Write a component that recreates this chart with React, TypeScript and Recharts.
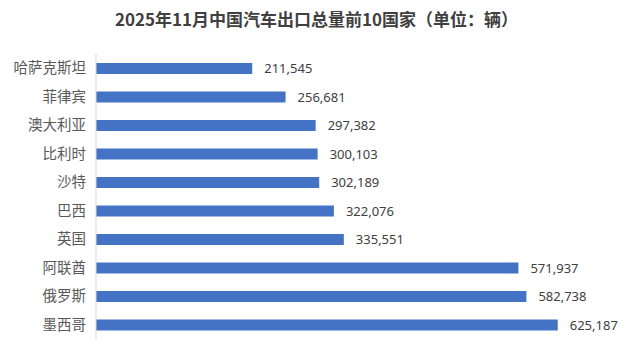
import React from 'react';
import { BarChart, Bar, XAxis, YAxis, LabelList } from 'recharts';

const countries = ['哈萨克斯坦', '菲律宾', '澳大利亚', '比利时', '沙特', '巴西', '英国', '阿联酋', '俄罗斯', '墨西哥'];
const exports = [211545, 256681, 297382, 300103, 302189, 322076, 335551, 571937, 582738, 625187];

const data = countries.map((name, i) => ({ name, value: exports[i] }));

export default function App() {
  return (
    <div style={{ position: 'relative', width: 633, height: 357, background: '#fff' }}>
      <style>{`body{margin:0}`}</style>
      <div
        style={{
          position: 'absolute',
          top: 7,
          left: 0,
          width: 633,
          textAlign: 'center',
          fontFamily: '"Noto Sans CJK SC", sans-serif',
          fontWeight: 'bold',
          fontSize: 17,
          color: '#404040',
          lineHeight: '24px',
        }}
      >
        2025年11月中国汽车出口总量前10国家（单位：辆）
      </div>
      <BarChart
        width={633}
        height={357}
        data={data}
        layout="vertical"
        margin={{ top: 54, right: 20, bottom: 18, left: 0 }}
      >
        <XAxis type="number" domain={[0, 700000]} hide />
        <YAxis
          type="category"
          dataKey="name"
          width={96}
          tickLine={false}
          tickMargin={4}
          axisLine={{ stroke: '#d9d9d9' }}
          tick={{ fontSize: 14.5, fill: '#595959', fontFamily: '"Noto Sans CJK SC", sans-serif' }}
        />
        <Bar dataKey="value" fill="#4472C4" barSize={11} isAnimationActive={false}>
          <LabelList
            dataKey="value"
            position="right"
            offset={12}
            formatter={(v: number) => v.toLocaleString('en-US')}
            style={{ fontSize: 13, fill: '#404040', fontFamily: '"Noto Sans", sans-serif' }}
          />
        </Bar>
      </BarChart>
    </div>
  );
}
